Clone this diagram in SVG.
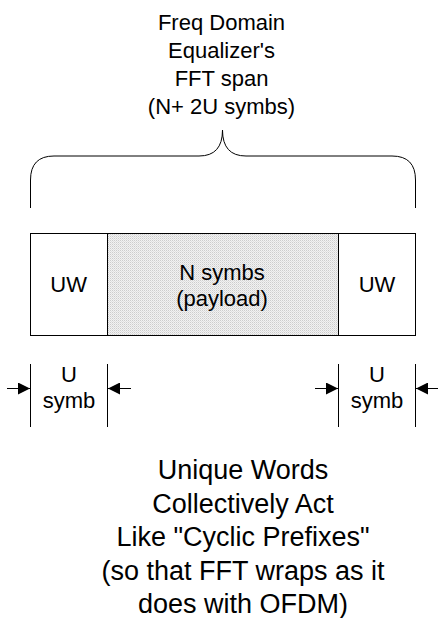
<svg xmlns="http://www.w3.org/2000/svg" width="438" height="618" viewBox="0 0 438 618">
<style>
text{font-family:"Liberation Sans",Arial,sans-serif;fill:#000;text-anchor:middle}
.t22{font-size:22px}
.t27{font-size:27px}
.ln{stroke:#000;stroke-width:1;fill:none}
</style>
<defs>
<pattern id="stipple" width="2" height="2" patternUnits="userSpaceOnUse">
<rect width="2" height="2" fill="#f2f2f2"/>
<rect x="0" y="0" width="1" height="1" fill="#cdcdcd"/>
<rect x="1" y="1" width="1" height="1" fill="#e0e0e0"/>
</pattern>
<marker id="ah" viewBox="0 0 10 10" refX="10" refY="5" markerWidth="12" markerHeight="12" markerUnits="userSpaceOnUse" orient="auto">
<path d="M0,0 L10,5 L0,10 Z" fill="#000"/>
</marker>
</defs>
<g id="title">
<text class="t22" x="221.5" y="30">Freq Domain</text>
<text class="t22" x="221.5" y="58">Equalizer's</text>
<text class="t22" x="221.5" y="86">FFT span</text>
<text class="t22" x="221.5" y="114">(N+ 2U symbs)</text>
</g>
<g id="brace">
<path class="ln" d="M30.5,208 V180 Q30.5,156 54,156 H199 Q222.5,156 222.5,130 Q222.5,156 246,156 H392 Q415.5,156 415.5,180 V208"/>
</g>
<g id="uw-left">
<rect x="30.5" y="233.5" width="77" height="102" fill="#fff" stroke="#000"/>
<text class="t22" x="68.7" y="291.5">UW</text>
</g>
<g id="payload">
<rect x="107.5" y="233.5" width="231" height="102" fill="url(#stipple)" stroke="#000"/>
<text class="t22" x="222" y="279.5">N symbs</text>
<text class="t22" x="222" y="306">(payload)</text>
</g>
<g id="uw-right">
<rect x="338.5" y="233.5" width="77" height="102" fill="#fff" stroke="#000"/>
<text class="t22" x="377" y="291.5">UW</text>
</g>
<g id="u-left">
<line class="ln" x1="30.5" y1="364" x2="30.5" y2="427"/>
<line class="ln" x1="107.5" y1="364" x2="107.5" y2="427"/>
<text class="t22" x="69" y="381.5">U</text>
<text class="t22" x="69" y="408">symb</text>
</g>
<g id="u-right">
<line class="ln" x1="338.5" y1="364" x2="338.5" y2="427"/>
<line class="ln" x1="415.5" y1="364" x2="415.5" y2="427"/>
<text class="t22" x="377" y="381.5">U</text>
<text class="t22" x="377" y="408">symb</text>
</g>
<g id="connectors">
<line class="ln" x1="7" y1="388.5" x2="30" y2="388.5" marker-end="url(#ah)"/>
<line class="ln" x1="131" y1="388.5" x2="108" y2="388.5" marker-end="url(#ah)"/>
<line class="ln" x1="315" y1="388.5" x2="338" y2="388.5" marker-end="url(#ah)"/>
<line class="ln" x1="438" y1="388.5" x2="416" y2="388.5" marker-end="url(#ah)"/>
</g>
<g id="note">
<text class="t27" x="243" y="479">Unique Words</text>
<text class="t27" x="243" y="512.5">Collectively Act</text>
<text class="t27" x="243" y="546">Like "Cyclic Prefixes"</text>
<text class="t27" x="243" y="579.5">(so that FFT wraps as it</text>
<text class="t27" x="243" y="613">does with OFDM)</text>
</g>
</svg>
